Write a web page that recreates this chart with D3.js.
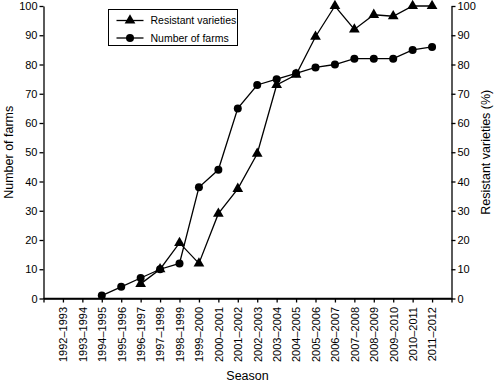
<!DOCTYPE html>
<html>
<head>
<meta charset="utf-8">
<script src="https://cdn.jsdelivr.net/npm/d3@7"></script>
<style>
body { margin: 0; background: #fff; }
svg text { font-family: "Liberation Sans", Arial, sans-serif; fill: #000; }
</style>
</head>
<body>
<svg width="500" height="382"></svg>
<script>
// seasons on the x axis
var seasons = ["1992–1993","1993–1994","1994–1995","1995–1996","1996–1997","1997–1998",
  "1998–1999","1999–2000","2000–2001","2001–2002","2002–2003","2003–2004","2004–2005",
  "2005–2006","2006–2007","2007–2008","2008–2009","2009–2010","2010–2011","2011–2012"];

// number of farms (left axis), null = no data
var farms = [null, null, 1, 4, 7, 10, 12, 38, 44, 65, 73, 75, 77, 79, 80, 82, 82, 82, 85, 86];

// resistant varieties in % (right axis)
var resistant = [null, null, null, null, 5, 10, 19, 12, 29, 37.5, 49.5, 73, 76.5, 89.5, 100, 92, 97, 96.5, 100, 100];

var yTicks = [0, 10, 20, 30, 40, 50, 60, 70, 80, 90, 100];

var pLeft = 43.5, pRight = 451.5, pTop = 6, pBottom = 298.5;

var svg = d3.select("svg");

var x = d3.scalePoint().domain(seasons).range([pLeft, pRight]).padding(1);
var yl = d3.scaleLinear().domain([0, 100]).range([pBottom, pTop]);
var yr = d3.scaleLinear().domain([0, 100]).range([pBottom, pTop]);

// axes
var gx = svg.append("g")
  .attr("transform", "translate(0," + pBottom + ")")
  .call(d3.axisBottom(x).tickSizeOuter(0).tickSize(4));
gx.selectAll("text")
  .attr("transform", "rotate(-90)")
  .attr("text-anchor", "end")
  .attr("x", -8.5)
  .attr("y", 0)
  .attr("dy", "0.35em")
  .style("font-size", "11px");

var gl = svg.append("g")
  .attr("transform", "translate(" + pLeft + ",0)")
  .call(d3.axisLeft(yl).tickValues(yTicks).tickSize(4).tickSizeOuter(0).tickPadding(2));
gl.selectAll("text").style("font-size", "11px");

var gr = svg.append("g")
  .attr("transform", "translate(" + pRight + ",0)")
  .call(d3.axisRight(yr).tickValues(yTicks).tickSize(4).tickSizeOuter(0).tickPadding(2));
gr.selectAll("text").style("font-size", "11px");

svg.selectAll(".domain, .tick line").attr("stroke", "#000").attr("stroke-width", 1.3);

// extend the x baseline to both vertical axes
svg.append("line")
  .attr("x1", pLeft).attr("x2", pRight)
  .attr("y1", pBottom).attr("y2", pBottom)
  .attr("stroke", "#000").attr("stroke-width", 1.3);

// axis titles
svg.append("text")
  .attr("transform", "translate(13," + ((pTop + pBottom) / 2) + ") rotate(-90)")
  .attr("text-anchor", "middle")
  .style("font-size", "12.5px")
  .text("Number of farms");

svg.append("text")
  .attr("transform", "translate(490," + ((pTop + pBottom) / 2) + ") rotate(-90)")
  .attr("text-anchor", "middle")
  .style("font-size", "12.5px")
  .text("Resistant varieties (%)");

svg.append("text")
  .attr("x", (pLeft + pRight) / 2)
  .attr("y", 380)
  .attr("text-anchor", "middle")
  .style("font-size", "12.5px")
  .text("Season");

// series
var tri = d3.symbol().type(d3.symbolTriangle).size(50);

function drawSeries(vals, yScale, marker) {
  var pts = seasons.map(function(s, i) { return { s: s, v: vals[i] }; })
    .filter(function(d) { return d.v != null; });
  svg.append("path")
    .datum(pts)
    .attr("fill", "none")
    .attr("stroke", "#000")
    .attr("stroke-width", 1.3)
    .attr("d", d3.line().x(function(d) { return x(d.s); }).y(function(d) { return yScale(d.v); }));
  var g = svg.append("g");
  if (marker === "circle") {
    g.selectAll("circle").data(pts).enter().append("circle")
      .attr("cx", function(d) { return x(d.s); })
      .attr("cy", function(d) { return yScale(d.v); })
      .attr("r", 4);
  } else {
    g.selectAll("path").data(pts).enter().append("path")
      .attr("d", tri)
      .attr("transform", function(d) { return "translate(" + x(d.s) + "," + yScale(d.v) + ")"; });
  }
}

drawSeries(farms, yl, "circle");
drawSeries(resistant, yr, "triangle");

// legend
var lg = svg.append("g").attr("transform", "translate(108.5,9.5)");
lg.append("rect")
  .attr("width", 129).attr("height", 36)
  .attr("fill", "#fff").attr("stroke", "#000").attr("stroke-width", 1);
var items = [["Resistant varieties", "triangle"], ["Number of farms", "circle"]];
items.forEach(function(it, i) {
  var cy = 11 + i * 17.5;
  lg.append("line").attr("x1", 8).attr("x2", 35).attr("y1", cy).attr("y2", cy)
    .attr("stroke", "#000").attr("stroke-width", 1.3);
  if (it[1] === "circle") {
    lg.append("circle").attr("cx", 21.5).attr("cy", cy).attr("r", 4);
  } else {
    lg.append("path").attr("d", tri).attr("transform", "translate(21.5," + cy + ")");
  }
  lg.append("text").attr("x", 42).attr("y", cy).attr("dy", "0.35em")
    .style("font-size", "10.5px").text(it[0]);
});
</script>
</body>
</html>
